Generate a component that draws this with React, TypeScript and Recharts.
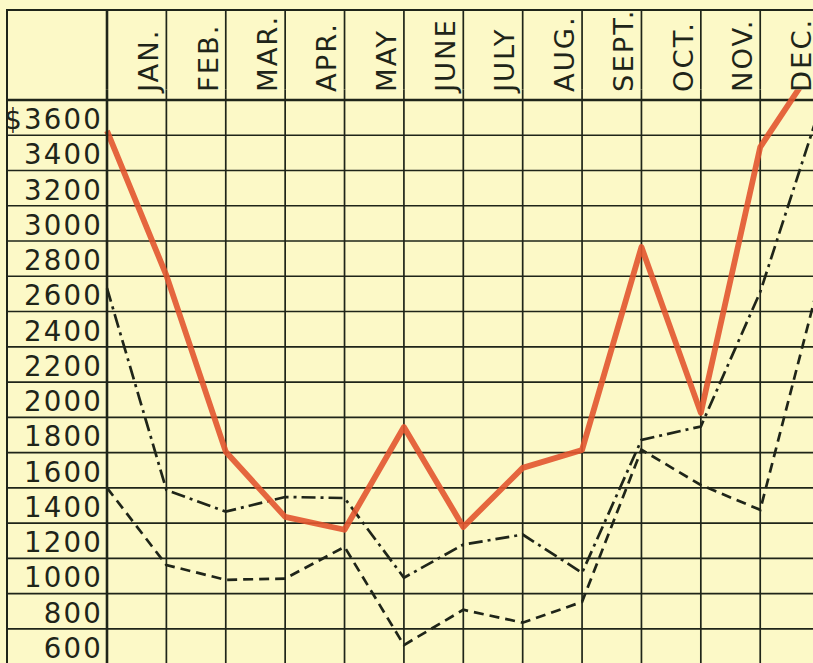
import React from 'react';
import { LineChart, Line, XAxis, YAxis, CartesianGrid, ReferenceLine } from 'recharts';

// Month names shown in the header (each column = one month)
const monthLabels = ['JAN.', 'FEB.', 'MAR.', 'APR.', 'MAY', 'JUNE', 'JULY', 'AUG.', 'SEPT.', 'OCT.', 'NOV.', 'DEC.'];
// Month boundaries (0 = start of January, 12 = end of December)
const boundaries = [0, 1, 2, 3, 4, 5, 6, 7, 8, 9, 10, 11, 12];
// Header label positions (middle of each month column)
const monthCenters = [0.5, 1.5, 2.5, 3.5, 4.5, 5.5, 6.5, 7.5, 8.5, 9.5, 10.5, 11.5];

// Series values in dollars, read at each boundary
const redSeries = [3525, 2705, 1705, 1335, 1262, 1845, 1278, 1613, 1715, 2866, 1925, 3433, 3940];
const dashDotSeries = [2632, 1488, 1365, 1448, 1442, 990, 1178, 1235, 1018, 1772, 1848, 2611, 3650];
const dashedSeries = [1500, 1062, 978, 985, 1165, 608, 808, 735, 853, 1716, 1516, 1375, 2678];

// Y labels and ruled lines
const yLabelValues = [3600, 3400, 3200, 3000, 2800, 2600, 2400, 2200, 2000, 1800, 1600, 1400, 1200, 1000, 800, 600];
const ruleValues = [3700, 3500, 3300, 3100, 2900, 2700, 2500, 2300, 2100, 1900, 1700, 1500, 1300, 1100, 900, 700, 500];

const PAPER = '#fcf9c7';
const INK = '#1f2519';
const FONT = '"DejaVu Sans", Verdana, sans-serif';

const data = boundaries.map((b, i) => ({
  pos: b,
  red: redSeries[i],
  dashDot: dashDotSeries[i],
  dashed: dashedSeries[i],
}));

const yTicks = [...ruleValues, ...yLabelValues].sort((a, b) => b - a);
const xTicks = [...boundaries, ...monthCenters].sort((a, b) => a - b);

const YTick = (props: any) => {
  const { x, y, payload } = props;
  const v = payload.value as number;
  if (ruleValues.includes(v)) {
    return <line x1={x - 101} x2={x} y1={y} y2={y} stroke={INK} strokeWidth={v === 3700 ? 2.6 : 1.7} />;
  }
  const label = v === yLabelValues[0] ? `$${v}` : `${v}`;
  return (
    <text x={x - 4} y={y + 11.5} textAnchor="end" fontFamily={FONT} fontSize={27.6} letterSpacing={2.2} fill={INK}>
      {label}
    </text>
  );
};

const XTick = (props: any) => {
  const { x, y, payload } = props;
  const v = payload.value as number;
  if (Number.isInteger(v)) {
    return <line x1={x} x2={x} y1={y} y2={y - 80} stroke={INK} strokeWidth={v === 0 ? 2.6 : 1.7} />;
  }
  const label = monthLabels[Math.floor(v)];
  const bx = x + 21.5;
  const by = y + 2.6;
  return (
    <text
      x={bx}
      y={by}
      transform={`rotate(-90 ${bx} ${by})`}
      textAnchor="start"
      fontFamily={FONT}
      fontSize={27.4}
      letterSpacing={2}
      fill={INK}
    >
      {label}
    </text>
  );
};

export default function App() {
  return (
    <div style={{ position: 'fixed', left: 0, top: 0, width: 813, height: 663, overflow: 'hidden', background: PAPER }}>
      <div style={{ position: 'absolute', left: 0, top: 0 }}>
        <LineChart width={830} height={680} data={data} margin={{ top: 10, right: 10.4, bottom: 15.9, left: 8 }}>
          <CartesianGrid
            stroke={INK}
            strokeWidth={1.7}
            horizontalValues={ruleValues}
            verticalValues={boundaries}
          />
          <XAxis
            dataKey="pos"
            type="number"
            orientation="top"
            domain={[0, 12]}
            ticks={xTicks}
            interval={0}
            height={79.4}
            tickSize={0}
            tickMargin={0}
            tickLine={false}
            axisLine={false}
            tick={<XTick />}
          />
          <YAxis
            type="number"
            domain={[500, 3760]}
            allowDataOverflow
            ticks={yTicks}
            interval={0}
            width={99}
            tickSize={0}
            tickMargin={0}
            tickLine={false}
            axisLine={{ stroke: INK, strokeWidth: 2.6 }}
            tick={<YTick />}
          />
          <ReferenceLine y={3700} stroke={INK} strokeWidth={2.6} />
          <Line
            dataKey="dashed"
            stroke={INK}
            strokeWidth={2.7}
            strokeDasharray="10 6"
            dot={false}
            activeDot={false}
            isAnimationActive={false}
          />
          <Line
            dataKey="dashDot"
            stroke={INK}
            strokeWidth={2.7}
            strokeDasharray="14 5 3 5"
            dot={false}
            activeDot={false}
            isAnimationActive={false}
          />
          <Line
            dataKey="red"
            stroke="#e2552f"
            strokeWidth={5.8}
            strokeLinejoin="round"
            strokeOpacity={0.9}
            dot={false}
            activeDot={false}
            isAnimationActive={false}
          />
        </LineChart>
      </div>
      <div style={{ position: 'absolute', left: 6, top: 9, width: 2, height: 660, background: INK }} />
      <div style={{ position: 'absolute', left: 6, top: 9, width: 810, height: 2, background: INK }} />
    </div>
  );
}
